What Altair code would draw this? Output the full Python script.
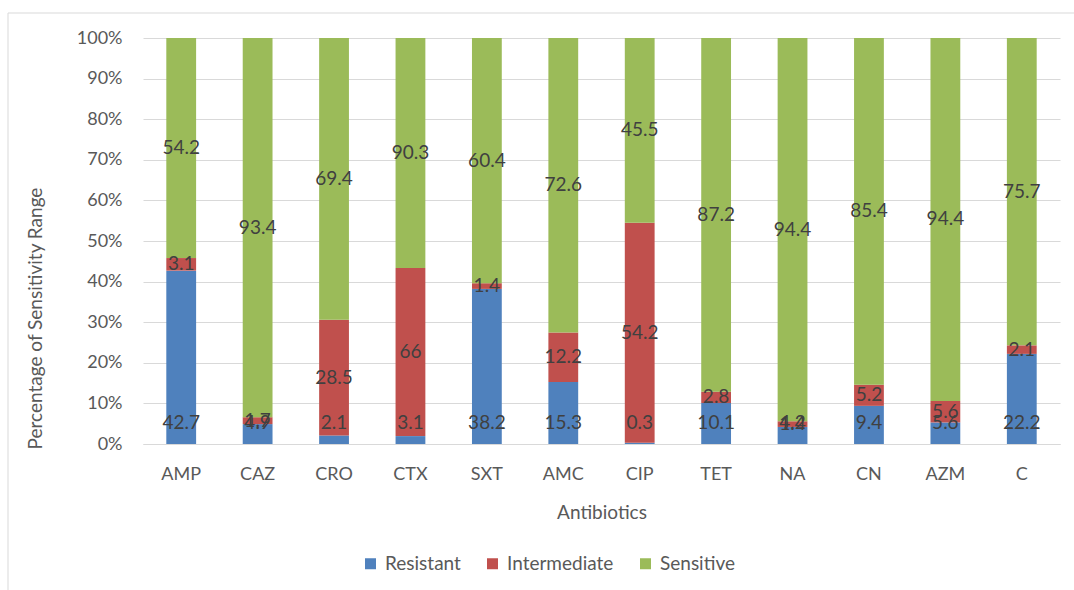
import altair as alt
import pandas as pd

drugs = ["AMP", "CAZ", "CRO", "CTX", "SXT", "AMC", "CIP", "TET", "NA", "CN", "AZM", "C"]
resistant = [42.7, 4.9, 2.1, 3.1, 38.2, 15.3, 0.3, 10.1, 4.2, 9.4, 5.6, 22.2]
intermediate = [3.1, 1.7, 28.5, 66, 1.4, 12.2, 54.2, 2.8, 1.4, 5.2, 5.6, 2.1]
sensitive = [54.2, 93.4, 69.4, 90.3, 60.4, 72.6, 45.5, 87.2, 94.4, 85.4, 94.4, 75.7]
series = ["Resistant", "Intermediate", "Sensitive"]
colors = ["#4F81BD", "#C0504D", "#9BBB59"]
y_ticks = [0, 0.1, 0.2, 0.3, 0.4, 0.5, 0.6, 0.7, 0.8, 0.9, 1.0]

rows = []
for i, d in enumerate(drugs):
    for k, (s, vals) in enumerate(zip(series, [resistant, intermediate, sensitive])):
        rows.append({"drug": d, "series": s, "order": k, "value": vals[i],
                     "label": f"{vals[i]:g}"})
df = pd.DataFrame(rows)

FONT = "Lato"
TXT = "#595959"

x_enc = alt.X(
    "drug:N", sort=drugs,
    scale=alt.Scale(paddingInner=0.61, paddingOuter=0.305),
    axis=alt.Axis(title="Antibiotics", labelAngle=0, ticks=False, tickSize=0,
                  labelPadding=21, domain=True, domainColor="#D9D9D9",
                  labelFontSize=18, labelColor=TXT, labelFont=FONT,
                  titleFontSize=19, titleColor=TXT, titleFont=FONT, titleFontWeight="normal",
                  titleY=68, titleBaseline="middle"),
)

base = alt.Chart(df)

bars = base.mark_bar().encode(
    x=x_enc,
    y=alt.Y("value:Q", stack="normalize", scale=alt.Scale(domain=[0, 1]),
            axis=alt.Axis(title="Percentage of Sensitivity Range", format="%", values=y_ticks,
                          grid=True, gridColor="#D9D9D9", domain=False, ticks=False, tickSize=0,
                          labelPadding=21, labelFontSize=18, labelColor=TXT, labelFont=FONT,
                          titleFontSize=19, titleColor=TXT, titleFont=FONT,
                          titleFontWeight="normal", titleX=-108, titleY=280,
                          titleAlign="center", titleBaseline="middle", titleAngle=270)),
    color=alt.Color("series:N", sort=series,
                    scale=alt.Scale(domain=series, range=colors),
                    legend=alt.Legend(title=None, orient="none", legendX=218, legendY=516,
                                      direction="horizontal", symbolType="square",
                                      symbolSize=121, symbolStrokeWidth=0,
                                      labelFontSize=19, labelColor=TXT, labelFont=FONT,
                                      labelOffset=5, columnPadding=22, padding=0)),
    order=alt.Order("order:Q", sort="ascending"),
)

mid_labels = base.transform_stack(
    stack="value", as_=["y0", "y1"], groupby=["drug"], offset="normalize",
    sort=[alt.SortField("order", order="ascending")],
).transform_filter("datum.series != 'Resistant'").transform_calculate(
    mid="(datum.y0 + datum.y1) / 2"
).mark_text(font=FONT, fontSize=19, color="#404040", baseline="middle").encode(
    x=alt.X("drug:N", sort=drugs),
    y=alt.Y("mid:Q"),
    text="label:N",
)

base_labels = base.transform_filter("datum.series == 'Resistant'").mark_text(
    font=FONT, fontSize=19, color="#404040", baseline="middle", dy=-21
).encode(
    x=alt.X("drug:N", sort=drugs),
    y=alt.datum(0),
    text="label:N",
)

border = alt.Chart(alt.Data(values=[{}])).mark_rect(
    fillOpacity=0, stroke="#D9D9D9", strokeWidth=1
).encode(
    x=alt.value(-135), x2=alt.value(940), y=alt.value(-25), y2=alt.value(562)
)

chart = alt.layer(border, bars, mid_labels, base_labels).properties(
    width=917, height=406,
    autosize=alt.AutoSizeParams(type="none"),
    padding={"left": 143, "top": 38, "right": 14, "bottom": 146},
    background="white",
).configure_view(stroke=None)

chart.save("out.html", embed_options={"renderer": "svg", "actions": False})
